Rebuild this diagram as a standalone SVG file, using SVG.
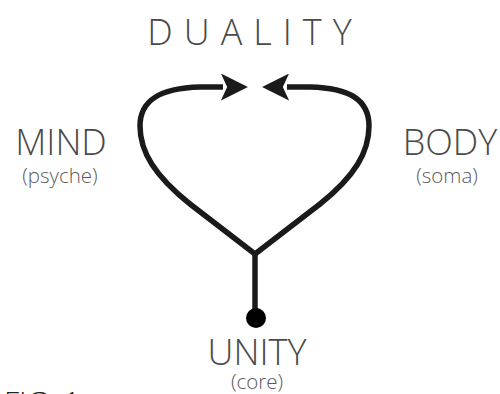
<svg xmlns="http://www.w3.org/2000/svg" width="500" height="394" viewBox="0 0 500 394">
<style>
.lbl{font-family:"Open Sans","Liberation Sans",sans-serif;font-weight:300;fill:#4a4a4a;}
.big{font-size:36px;}
.sub{font-size:20.5px;fill:#5a5a5a;}
.con{fill:none;stroke:#1a1a1a;stroke-width:5.5;stroke-linejoin:round;}
</style>
<defs>
<marker id="ah" viewBox="0 0 26 26" refX="2" refY="13" markerWidth="27" markerHeight="27" markerUnits="userSpaceOnUse" orient="auto">
<path d="M0,0 L26,13 L0,26 L6,13 Z" fill="#1a1a1a"/>
</marker>
</defs>
<rect width="500" height="394" fill="#fff"/>
<g id="connectors">
<path class="con" d="M255,254 L190,204 C155,176 140,152 140,126 C140,100 160,88 200,87 L223,87" marker-end="url(#ah)"/>
<path class="con" d="M255,254 L320,204 C355,176 369,152 369,126 C369,100 350,88 310,87 L287,87" marker-end="url(#ah)"/>
<path class="con" d="M255,254 L255,318"/>
</g>
<g id="duality"><text class="lbl big" x="255" y="45" text-anchor="middle" letter-spacing="11">DUALITY</text></g>
<g id="mind"><text class="lbl big" x="61" y="155" text-anchor="middle">MIND</text><text class="lbl sub" x="60" y="183" text-anchor="middle">(psyche)</text></g>
<g id="body"><text class="lbl big" x="450" y="155" text-anchor="middle">BODY</text><text class="lbl sub" x="447" y="183" text-anchor="middle">(soma)</text></g>
<g id="unity"><circle cx="256" cy="318" r="10" fill="#000"/><text class="lbl big" x="257" y="365" text-anchor="middle">UNITY</text><text class="lbl sub" x="257" y="389" text-anchor="middle">(core)</text></g>
<g id="fig"><text class="lbl" x="4" y="413" font-size="30" style="fill:#222">FIG. 1</text></g>
</svg>
